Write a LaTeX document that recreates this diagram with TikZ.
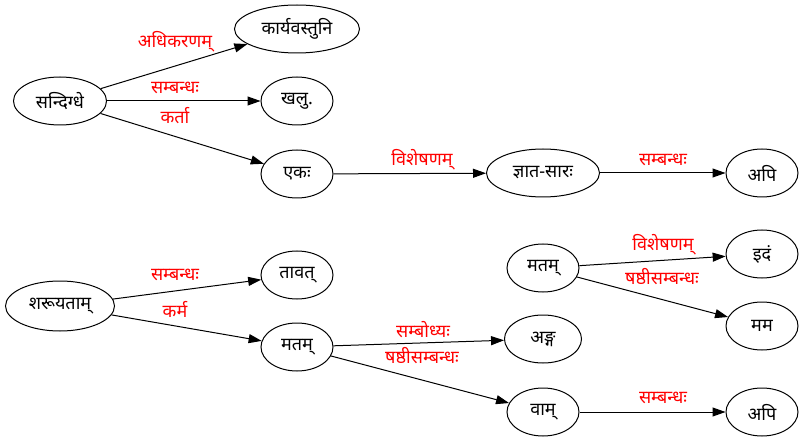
\documentclass[tikz,border=0pt]{standalone}
\usepackage{fontspec}
\newfontfamily\deva[Script=Devanagari]{Noto Sans}
\usetikzlibrary{shapes.geometric}
\usetikzlibrary{arrows.meta}

\begin{document}
\begin{tikzpicture}[x=1pt,y={(0pt,-1pt)},
		word/.style={draw,ellipse,line width=1pt,minimum width=72pt,minimum height=48pt,inner sep=0pt,font=\deva\fontsize{18}{20}\selectfont},
		rel/.style={text=red,inner sep=0pt,font=\deva\fontsize{18}{20}\selectfont},
		link/.style={line width=1pt,-{Triangle[length=13pt,width=9pt]}}]
				\useasboundingbox (0,0) rectangle (804,441);
				% first sentence
				\node[word,minimum width=93pt] (sandigdhe) at (60,101) {सन्दिग्धे};
				\node[word,minimum width=125pt] (karya) at (297,29) {कार्यवस्तुनि};
				\node[word] (khalu) at (297,101) {खलु.};
				\node[word] (ekah) at (297,174) {एकः};
				\node[word,minimum width=113pt] (jnata) at (543,173) {ज्ञात-सारः};
				\node[word] (apiA) at (762,173) {अपि};
				\draw[link] (sandigdhe) -- (karya);
				\draw[link] (sandigdhe) -- (khalu);
				\draw[link] (sandigdhe) -- (ekah);
				\draw[link] (ekah) -- (jnata);
				\draw[link] (jnata) -- (apiA);
				\node[rel] (adhi) at (175,42) {अधिकरणम्};
				\node[rel] (sambA) at (175,88) {सम्बन्धः};
				\node[rel] (karta) at (175,116) {कर्ता};
				\node[rel] (visA) at (422,160) {विशेषणम्};
				\node[rel] (sambB) at (663,160) {सम्बन्धः};
				% second sentence
				\node[word,minimum width=109pt,minimum height=50pt] (shruyatam) at (60,306) {शरूयताम्};
				\node[word] (tavat) at (297,275) {तावत्};
				\node[word] (matamA) at (297,347) {मतम्};
				\node[word,minimum width=77pt] (anga) at (543,339) {अङ्ग};
				\node[word] (vam) at (543,412) {वाम्};
				\node[word] (apiB) at (762,412) {अपि};
				\node[word] (matamB) at (543,268) {मतम्};
				\node[word] (idam) at (762,254) {इदं};
				\node[word] (mama) at (762,326) {मम};
				\draw[link] (shruyatam) -- (tavat);
				\draw[link] (shruyatam) -- (matamA);
				\draw[link] (matamA) -- (anga);
				\draw[link] (matamA) -- (vam);
				\draw[link] (vam) -- (apiB);
				\draw[link] (matamB) -- (idam);
				\draw[link] (matamB) -- (mama);
				\node[rel] (sambC) at (175,275) {सम्बन्धः};
				\node[rel] (karma) at (175,309) {कर्म};
				\node[rel] (sambodh) at (423,330) {सम्बोध्यः};
				\node[rel] (shashA) at (422,356) {षष्ठीसम्बन्धः};
				\node[rel] (sambD) at (663,398) {सम्बन्धः};
				\node[rel] (visB) at (663,245) {विशेषणम्};
				\node[rel] (shashB) at (662,277) {षष्ठीसम्बन्धः};
			\end{tikzpicture}
\end{document}
